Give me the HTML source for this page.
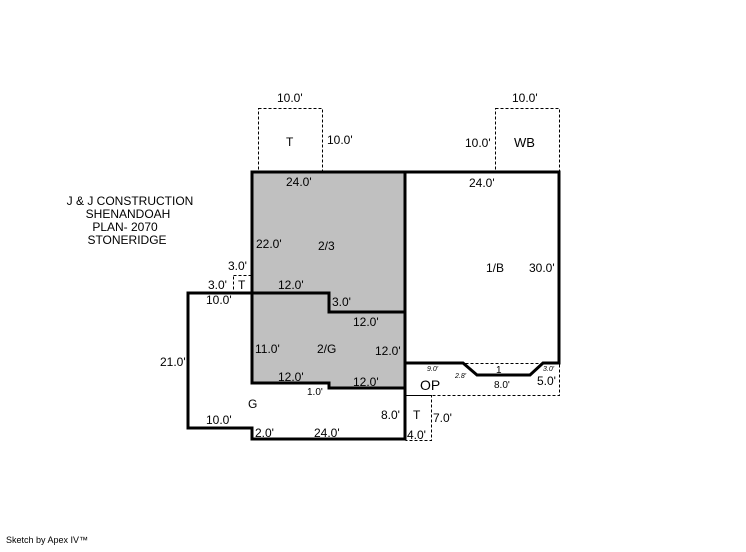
<!DOCTYPE html>
<html><head><style>
body{margin:0;background:#fff;}
svg text{font-family:"Liberation Sans",sans-serif;fill:#000;}
</style></head><body>
<svg width="746" height="547" xmlns="http://www.w3.org/2000/svg" font-size="12">
<polygon points="252,172 405,172 405,388 329,388 329,383 252,383" fill="#c0c0c0" stroke="none"/>
<g fill="none" stroke="#000" stroke-width="1" stroke-dasharray="3,2">
<rect x="258.5" y="108.5" width="64" height="64"/>
<rect x="495.5" y="108.5" width="64" height="64"/>
<rect x="233.5" y="275.5" width="19" height="18"/>
<polyline points="405.5,363.5 559.5,363.5 559.5,395.5 405.5,395.5"/>
<polyline points="405.5,395.5 431.5,395.5 431.5,440.5 405.5,440.5"/>
</g>
<g fill="none" stroke="#000" stroke-width="3">
<polygon points="252,172 405,172 405,388 329,388 329,383 252,383"/>
<polyline points="252,293 329,293 329,312 405,312"/>
<polyline points="252,293 188,293 188,428 252,428 252,439 405,439 405,388"/>
<polyline points="405,172 559,172 559,363 543,363 530,375 477,375 463,363 405,363"/>
</g>
<text x="277" y="102">10.0'</text>
<text x="286" y="146">T</text>
<text x="327" y="144">10.0'</text>
<text x="512" y="102">10.0'</text>
<text x="465" y="147">10.0'</text>
<text x="514" y="147" style="font-size:13px">WB</text>
<text x="286" y="186">24.0'</text>
<text x="469" y="187">24.0'</text>
<text x="256" y="248">22.0'</text>
<text x="318" y="250">2/3</text>
<text x="486" y="272">1/B</text>
<text x="529" y="272">30.0'</text>
<text x="228" y="270">3.0'</text>
<text x="208" y="289">3.0'</text>
<text x="238" y="289">T</text>
<text x="278" y="289">12.0'</text>
<text x="206" y="304">10.0'</text>
<text x="332" y="306">3.0'</text>
<text x="353" y="326">12.0'</text>
<text x="160" y="366">21.0'</text>
<text x="255" y="353">11.0'</text>
<text x="317" y="353">2/G</text>
<text x="375" y="355">12.0'</text>
<text x="278" y="381">12.0'</text>
<text x="353" y="386">12.0'</text>
<text x="307" y="395" style="font-size:10px">1.0'</text>
<text x="248" y="408">G</text>
<text x="206" y="424">10.0'</text>
<text x="255" y="437">2.0'</text>
<text x="314" y="437">24.0'</text>
<text x="381" y="419">8.0'</text>
<text x="413" y="419">T</text>
<text x="433" y="422">7.0'</text>
<text x="407" y="439">4.0'</text>
<text x="420" y="390" style="font-size:14px">OP</text>
<text x="427" y="371" style="font-size:7px;font-style:italic">9.0'</text>
<text x="455" y="378" style="font-size:7px;font-style:italic">2.8'</text>
<text x="496" y="373" style="font-size:10px">1</text>
<text x="494" y="388" style="font-size:10px">8.0'</text>
<text x="543" y="371" style="font-size:7px;font-style:italic">3.0'</text>
<text x="537" y="385">5.0'</text>
<text x="130" y="205" text-anchor="middle">J &amp; J CONSTRUCTION</text>
<text x="128" y="218" text-anchor="middle">SHENANDOAH</text>
<text x="125" y="231" text-anchor="middle">PLAN- 2070</text>
<text x="127" y="244" text-anchor="middle">STONERIDGE</text>
<text x="6" y="543" style="font-size:9px">Sketch by Apex IV™</text>
</svg>
</body></html>
